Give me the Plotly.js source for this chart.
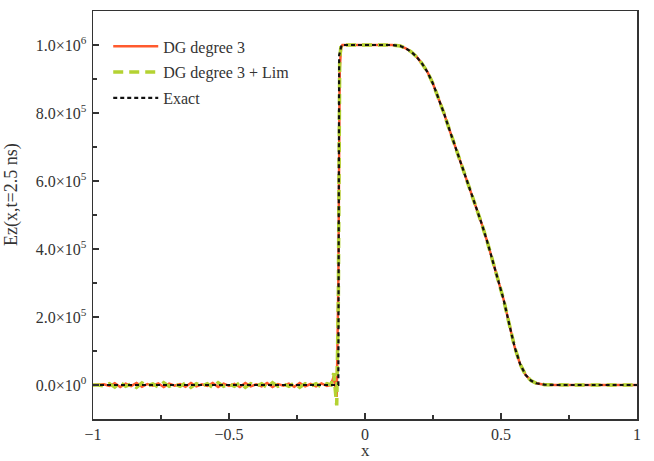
<!DOCTYPE html>
<html>
<head>
<meta charset="utf-8">
<script src="https://cdn.plot.ly/plotly-3.0.1.min.js"></script>
<style>html,body{margin:0;padding:0;background:#fff;}#chart{width:654px;height:461px;}</style>
</head>
<body>
<div id="chart"></div>
<script>
// Shared x grid for the numerical solutions
const xNum = [-1.00,-0.98,-0.96,-0.94,-0.92,-0.90,-0.88,-0.86,-0.84,-0.82,-0.80,-0.78,-0.76,-0.74,-0.72,-0.70,-0.68,-0.66,-0.64,-0.62,-0.60,-0.58,-0.56,-0.54,-0.52,-0.50,-0.48,-0.46,-0.44,-0.42,-0.40,-0.38,-0.36,-0.34,-0.32,-0.30,-0.28,-0.26,-0.24,-0.22,-0.20,-0.18,-0.16,-0.14,-0.125,-0.115,-0.104,-0.098,-0.093,-0.088,-0.083,0.00,0.10,0.13,0.15,0.17,0.19,0.21,0.23,0.25,0.27,0.29,0.31,0.33,0.35,0.37,0.39,0.41,0.43,0.45,0.47,0.49,0.51,0.53,0.55,0.57,0.59,0.61,0.63,0.66,0.70,0.80,0.90,1.00];

const dgDegree3 = [0,0,2000,-3000,5000,-6000,4000,-3000,6000,-5000,3000,-2000,5000,-6000,4000,-2000,3000,-5000,6000,-4000,2000,-3000,6000,-6000,4000,-3000,3000,-6000,6000,-4000,2000,-4000,6000,-6000,3000,-2000,4000,-5000,6000,-4000,3000,-4000,5000,-3000,0,25000,-35000,300000,930000,990000,1000000,1000000,1000000,997000,990000,980000,965000,945000,920000,886000,845000,800000,752000,705000,660000,615000,570000,522000,472000,420000,365000,308000,250000,180000,112000,62000,30000,13000,5000,1000,0,0,0,0];

const dgDegree3Lim = [0,0,-3000,4000,-6000,7000,-4000,3000,-7000,6000,-3000,3000,-6000,7000,-4000,3000,-4000,6000,-7000,4000,-3000,4000,-7000,7000,-4000,3000,-4000,7000,-7000,4000,-3000,4000,-7000,7000,-4000,3000,-4000,6000,-7000,4000,-3000,4000,-6000,4000,0,35000,-60000,250000,960000,1000000,1000000,1000000,1000000,997000,990000,980000,965000,945000,920000,886000,845000,800000,752000,705000,660000,615000,570000,522000,472000,420000,365000,308000,250000,180000,112000,62000,30000,13000,5000,1000,0,0,0,0];

const xExact = [-1.00,-0.098,-0.095,-0.086,0.00,0.10,0.13,0.15,0.17,0.19,0.21,0.23,0.25,0.27,0.29,0.31,0.33,0.35,0.37,0.39,0.41,0.43,0.45,0.47,0.49,0.51,0.53,0.55,0.57,0.59,0.61,0.63,0.66,0.70,0.80,0.90,1.00];
const exact = [0,0,970000,1000000,1000000,1000000,997000,990000,980000,965000,945000,920000,886000,845000,800000,752000,705000,660000,615000,570000,522000,472000,420000,365000,308000,250000,180000,112000,62000,30000,13000,5000,1000,0,0,0,0];

const yTickVals = [0,200000,400000,600000,800000,1000000];
const yTickText = ['0.0×10<sup>0</sup>','2.0×10<sup>5</sup>','4.0×10<sup>5</sup>','6.0×10<sup>5</sup>','8.0×10<sup>5</sup>','1.0×10<sup>6</sup>'];
const yMinorVals = [-100000,100000,300000,500000,700000,900000,1100000];
const xTickVals = [-1,-0.5,0,0.5,1];
const xTickText = ['−1','−0.5','0','0.5','1'];

const font = 'Liberation Serif, Times New Roman, serif';

const traces = [
  {x: xNum, y: dgDegree3, mode: 'lines', name: 'DG degree 3', legendgroup: 'a',
   line: {color: '#ff5a2e', width: 2.5}},
  {x: xNum, y: dgDegree3Lim, mode: 'lines', name: 'DG degree 3 + Lim', legendgroup: 'b',
   line: {color: '#b4d232', width: 3.5, dash: '10px,6px'}},
  {x: xExact, y: exact, mode: 'lines', name: 'Exact', legendgroup: 'c',
   line: {color: '#111111', width: 2.2, dash: '4px,3px'}}
];

const layout = {
  width: 654, height: 461,
  margin: {l: 93, r: 17, t: 11, b: 42},
  paper_bgcolor: '#fff', plot_bgcolor: '#fff',
  font: {family: font, size: 16, color: '#333'},
  showlegend: true,
  legend: {x: 0.028, y: 0.955, xanchor: 'left', yanchor: 'top', bgcolor: 'rgba(0,0,0,0)',
           font: {family: font, size: 16, color: '#333'}, tracegroupgap: 2, itemwidth: 45},
  xaxis: {range: [-1, 1], tickmode: 'array', tickvals: xTickVals, ticktext: xTickText,
          ticks: 'inside', ticklen: 6, tickwidth: 1.2, tickcolor: '#333',
          showline: true, linecolor: '#333', linewidth: 1.5, mirror: true,
          showgrid: false, zeroline: false, ticklabelstandoff: 0,
          minor: {ticks: 'inside', ticklen: 4, tickcolor: '#333', tickmode: 'array', tickvals: [-0.75,-0.25,0.25,0.75]},
          title: {text: ''}},
  yaxis: {range: [-100000, 1100000], tickmode: 'array', tickvals: yTickVals, ticktext: yTickText,
          ticks: 'inside', ticklen: 6, tickwidth: 1.2, tickcolor: '#333',
          showline: true, linecolor: '#333', linewidth: 1.5, mirror: true,
          showgrid: false, zeroline: false, ticklabelstandoff: 2,
          minor: {ticks: 'inside', ticklen: 4, tickcolor: '#333', tickmode: 'array', tickvals: yMinorVals},
          title: {text: ''}},
  annotations: [
    {text: 'Ez(x,t=2.5 ns)', textangle: -90, xref: 'paper', yref: 'paper',
     x: -0.15, y: 0.55, xanchor: 'center', yanchor: 'middle', showarrow: false,
     font: {family: font, size: 18, color: '#333'}},
    {text: 'x', xref: 'paper', yref: 'paper', x: 0.5, y: -0.1025,
     xanchor: 'center', yanchor: 'bottom', showarrow: false, borderpad: 0,
     font: {family: font, size: 17, color: '#333'}}
  ]
};

Plotly.newPlot('chart', traces, layout, {displayModeBar: false, staticPlot: true});
</script>
</body>
</html>
